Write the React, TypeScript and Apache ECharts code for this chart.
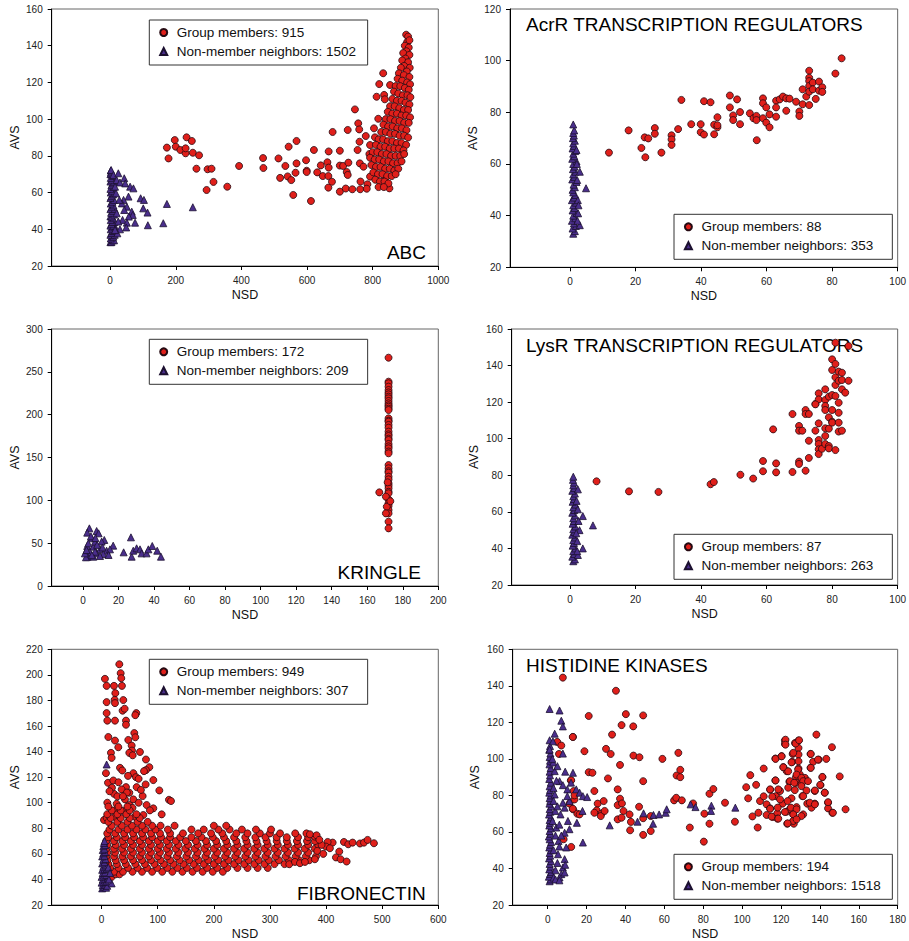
import React, { useEffect, useRef } from 'react';
import * as echarts from 'echarts';

const FONT = '"Liberation Sans", Arial, Helvetica, sans-serif';
const RED = '#e01f1a';
const PURPLE = '#4a2e8c';
const EDGE = '#260a12';

// ---------- tick labels ----------
const abcXTicks = [0, 200, 400, 600, 800, 1000];
const acrXTicks = [0, 20, 40, 60, 80, 100];
const kringleXTicks = [0, 20, 40, 60, 80, 100, 120, 140, 160, 180, 200];
const lysXTicks = [0, 20, 40, 60, 80, 100];
const fibXTicks = [0, 100, 200, 300, 400, 500, 600];
const hkXTicks = [0, 20, 40, 60, 80, 100, 120, 140, 160, 180];

// ---------- legend names ----------
const abcNames = ['Group members: 915', 'Non-member neighbors: 1502'];
const acrNames = ['Group members: 88', 'Non-member neighbors: 353'];
const kringleNames = ['Group members: 172', 'Non-member neighbors: 209'];
const lysNames = ['Group members: 87', 'Non-member neighbors: 263'];
const fibNames = ['Group members: 949', 'Non-member neighbors: 307'];
const hkNames = ['Group members: 194', 'Non-member neighbors: 1518'];

// ---------- ABC ----------
const abcMemberSparse = [
  [173,84.5],[178,78.6],[197,88.6],[200,85],[214,83.2],[230,81.4],[230,84.1],[233,90.1],[249,88.1],[252,81.7],[271,80.3],[263,73],[297,72.7],[309,73],[294,61.4],[315,65.8],[357,63.2],[393,74.5],[466,78.8],[467,73.4],[513,78.6],[518,68],[534,74.5],[544,85],[541,68.8],[552,66.8],[568,88.1],[568,75.9],[558,58.7],[565,70.8],[597,77.6],[599,71.9],[599,71.2],[612,55.4],[621,83.2],[631,71],[642,74.8],[648,69],[662,76.5],[666,82.4],[666,73.6],[665,69],[678,93],[676,65.9],[665,62.7],[700,82.8],[700,74.7],[700,60.5],[710,74.5],[724,94.1],[721,71.2],[724,69.6],[726,76.3],[718,62.2],[738,61.8],[746,105.3],[756,97.7],[759,94.4],[760,87.7],[754,83.2],[761,75.9],[763,66],[762,61.8],[772,74.1],[779,90.8],[784,64.5],[782,62.1],[790,81],[792,85.9],[792,68.7],[807,90.1],[804,95],[812,112.2],[817,100.2],[820,119.1],[832,125],[835,113.2],[837,110.8],[853,118.6],[851,62.3],[837,66.8]
];
const abcMemberDense = [
  [902,146],[908,145],[905,142],[912,143],[898,140],[910,139],[903,137],[893,136],[912,135],[900,133],[890,132],[908,131],[896,129],[913,128],[886,128],[904,126],[880,125],[895,124],[912,123],[876,122],[890,121],[905,120],[914,119],[870,118],[884,118],[898,117],[910,116],[865,115],[878,114],[892,113],[906,113],[915,112],[860,111],[874,110],[888,110],[900,109],[912,108],[853,107],[867,107],[881,106],[895,105],[908,105],[846,104],[860,103],[874,103],[888,102],[902,102],[914,101],[840,100],[854,100],[868,99],[882,99],[896,98],[910,98],[833,97],[847,96],[861,96],[875,95],[889,95],[903,94],[826,93],[840,93],[854,92],[868,92],[882,91],[896,91],[908,90],[818,89],[832,89],[846,88],[860,88],[874,87],[888,87],[902,86],[810,86],[824,85],[838,85],[852,84],[866,84],[880,84],[894,83],[800,82],[814,82],[828,81],[842,81],[856,80],[870,80],[884,80],[896,81],[792,79],[806,78],[820,78],[834,77],[848,77],[862,76],[876,76],[888,77],[796,75],[810,74],[824,74],[838,73],[852,73],[866,72],[878,73],[802,71],[816,70],[830,70],[844,69],[858,69],[870,70],[808,67],[822,66],[836,66],[848,65],[818,63],[834,63]
];
const abcNonMember = [
  [1,33],[4,33],[8,34],[12,34],[2,35],[6,36],[10,36],[1,37],[14,37],[4,38],[8,39],[12,39],[2,40],[6,41],[16,41],[1,42],[10,42],[4,43],[13,44],[7,44],[2,45],[9,46],[1,47],[5,47],[12,48],[3,49],[8,50],[1,51],[14,51],[5,52],[10,53],[2,54],[7,55],[12,56],[1,57],[4,58],[9,59],[2,60],[13,60],[6,61],[1,62],[10,63],[4,64],[8,65],[1,66],[12,66],[5,67],[2,68],[9,69],[1,70],[6,70],[3,71],[2,72],[3,72.3],
  [10,69.6],[20,66.8],[25,70.5],[30,65.5],[43,67.8],[46,65],[61,63.2],[71,62.3],[56,57.8],[41,56],[36,54.1],[51,52.3],[43,50.5],[66,49.6],[69,47.8],[57,46.9],[38,45.1],[51,43.6],[76,43.6],[49,41],[30,40],[93,56.9],[103,56],[101,51.4],[114,49.1],[115,42.2],[162,43.3],[173,53.8],[252,52],[22,37.8],[15,39.6],[25,44.2],[20,48.7],[28,56],[18,59.6],[15,63.2]
];

// ---------- AcrR ----------
const acrMember = [
  [11.9,64.4],[17.9,73],[21.8,66.2],[23,62.6],[22.8,70.3],[23.9,69.9],[25.9,73.9],[25.9,71.7],[27.9,64.4],[31,71.1],[31,69.5],[31,67.4],[33,73.5],[34,84.8],[37,75.4],[39.9,75.4],[39.9,72.3],[40.9,71.4],[40.9,84.3],[42.9,83.9],[44,75.2],[44,71.5],[45,78.1],[45,74.2],[45,75],[48.8,86.5],[48.8,81.9],[49.8,78.8],[49.8,77],[51,85],[51.9,80.1],[51.9,75.4],[54.9,79.6],[56,77.7],[56.9,78.6],[56.9,77],[57,69.2],[58.9,85.4],[58.9,83.5],[58.9,77.7],[59.9,81.9],[59.9,76],[60.9,79.2],[60.9,74.2],[62.9,84.5],[62.9,81.9],[62.9,78.3],[64,85],[65,86.1],[66,85.4],[66,80.6],[67,85.3],[69,84.1],[70,80.3],[70,78.6],[71,88.9],[71,83.1],[72.1,86.1],[73,96.1],[73,93.4],[73,92.1],[73,90.2],[73,88],[73,82.8],[74.1,91.5],[74.1,88.9],[75,85.2],[76,91.9],[76,88.4],[77,89.7],[77,87.9],[81,95],[82.9,100.9]
];
const acrNonMember = [
  [1,33],[1.5,34],[0.8,35],[1.8,36],[1.2,37],[0.6,38],[1.6,39],[1,40],[2,41],[0.8,42],[1.4,43],[1,44],[1.8,45],[0.6,46],[1.2,47],[1.6,48],[1,49],[0.8,50],[1.5,51],[1.1,52],[2,53],[0.7,54],[1.3,55],[1,56],[1.7,57],[0.9,58],[1.4,59],[1,60],[2,61],[0.7,62],[1.3,63],[1,64],[1.6,65],[0.8,66],[1.2,67],[1,68],[1.5,69],[0.9,70],[1.2,71],[1,72],[1.3,73],[1,75.3],
  [2,65.4],[3,57],[4.9,50.6],[3,36.3],[2.5,40.9],[2.2,53.8],[2.4,46],[2.6,44],[2.1,60],[2.3,38]
];

// ---------- KRINGLE ----------
const kringleMember = [
  [172,266.5],[172,238.5],[172,236.6],[172,232.7],[172,228.8],[172,226],[172,223.7],[172,221],[172,219],[172,216],[172,213.2],[172,211],[172,209.3],[172,207],[172,205.4],[172,195.7],[172,193],[172,191.8],[172,188],[172,184.8],[172,180.2],[172,177],[172,175.1],[172,172],[172,170.4],[172,165.8],[172,163],[172,160.7],[172,157],[172,154.9],[172,141.2],[172,137.4],[172,134],[172,132.3],[172,127.6],[172,124.5],[172,119.8],[172,117],[172,114],[172,110],[172,108.2],[172,101.2],[172,96.5],[172,93.4],[172,88.7],[172,84.8],[172,75.1],[172,67.3],[166.8,109.3],[170.5,104.3],[171,92.6],[170.5,84.8],[173,99],[171.5,121]
];
const kringleNonMember = [
  [3.6,67.3],[7.7,64.2],[8.8,61.5],[2.4,62.3],[4.9,55.6],[12,53.7],[10.5,51.8],[17,47.1],[2.4,46.7],[5.8,45.9],[9.6,42.8],[13.3,41.2],[15.2,42.8],[3.9,39.7],[7.7,38.1],[11.4,37.4],[14.4,36.2],[2.6,34.2],[5.8,34.2],[9.6,35],[22.9,39.3],[27,56.8],[27.4,34.2],[28.3,41.2],[30.2,44],[32.1,42.8],[33,38.1],[35.8,38.1],[36.8,42.8],[39,46.7],[41.8,41.2],[43.9,34.2],[1.7,33.5],[1.1,38.1],[6.8,51.8],[3,49.8],[6.8,40],[4.5,58],[8,48],[2,42],[5,36],[11,45],[7,56]
];

// ---------- LysR ----------
const lysMember = [
  [8.1,76.7],[18,71.2],[27,70.9],[42.9,75.1],[43.9,76.3],[52,80.3],[55.9,78.2],[58.9,87.8],[58.9,82.2],[62,105.1],[62.9,86.5],[62.9,81.6],[67.9,113.5],[67.9,81.8],[69.9,107],[69.9,104.4],[69.9,87.5],[69.9,86.2],[70.9,104.4],[71.9,115.7],[71.9,113.5],[72.9,113.5],[71.9,82.5],[72.9,98.9],[72.9,89.5],[74.9,119],[74.9,104.4],[75.9,124.8],[75.9,121.5],[75.9,108.4],[75.9,99.3],[75.9,97.1],[75.9,94.2],[75.9,91.6],[76.9,94.5],[77.9,127],[77.9,121.2],[77.9,117.9],[77.9,115.7],[77.9,105.7],[77.9,101.5],[77.9,97.1],[79,123],[79,111.7],[79,105.5],[79,96],[79,94.7],[80,143.4],[80,137.6],[80,123.9],[80,115.7],[80,109.3],[80,108.8],[81,152.5],[81,140.9],[81,133.6],[81,129.4],[81,123.4],[81,93.8],[82,136.7],[82,131.7],[82,119.7],[82,114.2],[82,108.8],[82,103.9],[83,136.1],[83,132.1],[83,127],[83,104.4],[84,125.2],[85,131.7],[85,150.7],[74.9,118.8]
];
const lysNonMember = [
  [1,33],[1.5,34],[0.7,35.5],[1.3,37],[1,38.5],[1.6,40],[0.8,41.5],[1.2,43],[1,44.5],[1.5,46],[0.7,47.5],[1.3,49],[1,50.5],[1.6,52],[0.8,53.5],[1.2,55],[1,56.5],[1.5,58],[0.7,59.5],[1.3,61],[1,62.5],[1.6,64],[0.8,65.5],[1.2,67],[1,68.5],[1.5,70],[0.7,71.5],[1.3,73],[1,74.5],[1.2,76],[0.9,77.5],[1,79.2],
  [2.4,72.3],[2.4,61.4],[3.9,57.7],[7,52.6],[2.9,50],[3.9,40],[2.4,36.4],[1.9,48.3],[2.2,44],[2.6,55],[2,66],[2.2,38.5]
];

// ---------- FIBRONECTIN ----------
const fibMemberUpper = [
  [31.5,208.3],[33.9,201.3],[35,197.4],[5.9,196.9],[8.9,191.4],[22,191.4],[36.2,191.4],[24.4,185.7],[23.2,180.5],[8.9,178.7],[23.8,177.9],[38.6,180.3],[37.4,172],[41,173.5],[61.8,170.1],[60,168.5],[8.9,170.1],[10.1,164.2],[23.8,164.2],[43.4,164.2],[43.4,161],[11.9,151.4],[23.8,148.6],[47.5,149.1],[58.2,154.5],[60,151.2],[29.7,143.4],[53.5,144.7],[54.1,140.8],[49.3,139],[68.3,139.7],[16.6,139],[17.8,135.1],[55.3,137.1],[79,133.8],[32.7,127.3],[36.8,125.2],[85,127.8],[79,125.5],[75.5,124.7],[56.5,123.1],[7.7,123.1],[61.2,120],[65.9,118.7],[92.1,117.7],[11.3,115.6],[20.8,117.4],[78.4,114.3],[62.4,112.2],[43.4,112.2],[35.7,110.4],[102.8,109.6],[49.3,107.8],[22,107],[18.4,111.7],[73.1,105.2],[41.6,102.6],[56.5,102.6],[120,102.3],[123.6,101.3],[10.1,100],[26.7,99.2],[49.3,98.2],[80.2,98.2],[92.1,95.6],[107,90.9],[23.8,94],[39.8,93.5],[4.2,86.5],[8.9,88.3],[23.8,88.8],[59.4,89.1],[74.3,90.4],[28,105],[45,108],[55,96],[66,100],[86,94],[30,116],[38,105],[14,109],[47,121],[70,110]
];
const fibBandRows: [number, number[]][] = [
  [42, [18]],
  [44, [25, 32]],
  [46, [22, 38, 55, 72, 90, 108, 126, 144, 162, 180, 198, 216]],
  [49, [15, 30, 47, 64, 81, 99, 117, 135, 152, 170, 188, 206, 224, 242, 260, 278, 296]],
  [52, [12, 27, 43, 60, 77, 94, 111, 128, 146, 164, 182, 200, 218, 236, 254, 272, 290, 308, 326]],
  [55, [10, 25, 40, 56, 72, 88, 105, 122, 139, 156, 173, 190, 208, 226, 244, 262, 280, 298, 316, 334, 352, 370]],
  [58, [8, 22, 37, 52, 68, 84, 100, 117, 134, 151, 168, 185, 202, 220, 238, 256, 274, 292, 310, 328, 346, 364, 382]],
  [61, [10, 24, 40, 56, 72, 88, 104, 120, 137, 154, 171, 188, 206, 224, 242, 260, 278, 296, 314, 332, 350, 368]],
  [64, [8, 22, 36, 52, 68, 84, 100, 116, 132, 149, 166, 183, 200, 218, 236, 254, 272, 290, 308, 326, 344, 362, 380]],
  [67, [10, 25, 40, 56, 72, 88, 104, 120, 137, 154, 171, 188, 206, 224, 242, 260, 278, 296, 314, 332, 350, 368, 386]],
  [70, [8, 22, 37, 52, 68, 84, 100, 116, 132, 150, 168, 186, 204, 222, 240, 258, 276, 294, 312, 330, 348, 366, 380]],
  [73, [12, 27, 42, 58, 74, 90, 106, 122, 140, 160, 178, 198, 218, 236, 256, 274, 292, 312, 330, 350, 368]],
  [76, [10, 24, 40, 56, 72, 88, 104, 122, 145, 172, 195, 215, 240, 260, 282, 300, 318, 345, 365]],
  [79, [14, 30, 46, 62, 78, 96, 118, 160, 182, 208, 228, 250, 275, 302]],
  [82, [18, 36, 54, 72, 90, 105, 130, 200, 222]],
  [85, [12, 28, 46, 64, 82]],
  [88, [16, 34, 50, 68]],
  [91, [10, 28, 44, 62]],
  [94, [18, 34, 50]],
  [97, [12, 30, 46]]
];
const fibMemberTail = [
  [431.8,69.3],[439.5,67.5],[447.3,68.8],[460.4,68.1],[467.5,68.8],[474,70.9],[485.3,68.3],[411.7,68.8],[402.8,69.3],[399.7,65.7],[406.8,64.4],[423.5,61.8],[417.6,57.2],[425.9,55.8],[436.6,54],[380,55.8],[384.3,62.3],[380,73.5],[371.2,75.3],[383.2,74.5],[334.4,51.9],[344.5,53.7],[353.4,52.7],[362.3,53.7],[392,67],[388,71],[395,60]
];
const fibNonMember = [
  [1,33],[4,34],[8,33.5],[2,35.5],[6,36],[10,35],[0,37.5],[4,38],[8,38.5],[2,40],[6,40.5],[11,41],[0,42],[4,43],[8,43.5],[2,45],[6,45.5],[1,47.5],[5,48],[9,48.5],[3,50],[7,51],[1,52.5],[5,53.5],[3,55.5],[7,56],[1,58],[5,58.5],[3,60.5],[6,61.5],[2,63],[5,64],[3,66],[6,67],[4,68.5],[5,70],
  [8.9,129.9],[17.8,36.9],[11.9,49.4],[13,40],[15,45]
];

// ---------- HISTIDINE KINASES ----------
const hkMember = [
  [7.8,144.5],[35.1,137.3],[21.1,123.5],[40.2,124.5],[49.1,123.8],[38,118.5],[44,117.8],[33.1,113.3],[13,112],[4.9,109.3],[7,107.3],[18.9,104.2],[30,105.5],[32.4,102.7],[5.8,102.7],[44.1,101.8],[47.2,100.9],[59,100],[67.2,103.3],[37.2,96.7],[21.1,92.7],[23,92.4],[31,89.3],[49.1,87.8],[11.9,88.2],[66.3,90.9],[68.2,94],[68.2,90],[24,82.4],[36,83.3],[37.2,78.2],[13.3,82.4],[11.2,75.5],[13,72.4],[13.8,77.8],[25.7,75.5],[25.2,71.8],[27.6,70],[27.3,68.7],[28.8,76.9],[29.3,71.5],[15.2,70],[16.4,69.6],[24,70.5],[36,74.7],[36,66.9],[38,67.8],[38.2,75.6],[39,71.5],[42.1,69.6],[42.8,65.5],[42.4,60.9],[47,73.8],[49.1,67.5],[49.1,58.4],[53,60.5],[53,68.7],[65,77.3],[66.1,78.7],[69,77.3],[73.1,62.4],[74.8,75.6],[80.6,70],[80.3,54.7],[83.2,80.9],[85.2,83.5],[83.2,64.5],[91.2,76],[96.3,65.6],[102.1,84.5],[103.1,78.4],[104.2,91.1],[107.2,85.8],[105.3,68.5],[108,62.4],[108.4,70.5],[109.2,76.9],[111.1,94.7],[111.1,79.5],[112.6,75.1],[112.6,69.3],[114.4,83.1],[114.4,72.9],[115.7,68.2],[117.1,100.2],[117.1,88.2],[117.4,79.6],[118.1,70.2],[118.1,67.3],[119.5,82.4],[120.3,101.5],[120.8,75.5],[122,110],[122,108.2],[121.2,95.5],[122.9,93.3],[122.9,71.1],[123.2,64.5],[124.3,87.5],[124.6,72.4],[125.4,78.4],[125.8,98.4],[126,102.7],[126.3,69.6],[126.3,66],[126.6,64.5],[127.2,108.7],[127.7,90],[127.7,86.9],[128,73.6],[129,110],[129,106],[129,102.4],[129,98.7],[129,94.7],[129.7,91.5],[130.6,86.4],[131,79.6],[131.4,69.6],[132.3,89.6],[133.1,82.7],[133.5,75.5],[135.2,102.7],[135.2,95.1],[135.7,73.3],[136.5,98.4],[137.4,82.4],[137.4,75.5],[138.2,113.3],[139.4,99.6],[140.3,85.6],[141.3,90],[142.5,81.5],[143.3,100],[144.2,76],[144.2,72.9],[146.2,106.4],[146.4,70.5],[150.2,90.4],[153.2,72.4],
  [12.1,51.8],[8.2,56],[12.9,112],[12.1,88.3],[13.8,80],[12.9,72.7],
  [122.3,110.5],[122.3,107.8],[127.5,108.4],[129.3,110.2],[126.3,103.3],[135.3,102.7],[117.2,100],[120.3,101.4],[125.4,98.1],[139,99.6],[121.2,95.4],[123.7,93.2],[128.8,94.2],[135.3,95.1],[128,91.4],[130.5,89.6],[141.3,90.1],[117.2,88.2],[124.6,87.8],[126.8,86.9],[131.4,87.8],[133.9,87.8],[140.2,85.8],[114.4,83.3],[118.6,83.3],[123.7,84.2],[127.1,82.9],[130.5,85.1],[137.4,82.7],[142.5,81.5],[131.4,79.6],[115.5,79.3],[119.5,77.8],[123.4,76.9],[134.8,76],[137.4,75.1],[144.2,76.3],[114.4,72.7],[118.3,73.3],[125.1,73.3],[128,72.4],[122,70.9],[126.3,69.6],[146.7,70.5],[115.2,68.4],[118.6,67.3],[130.5,68.7],[126.3,66],[123.4,64.7],[128,66.9]
];
const hkNonMember = [
  [1,33],[1.5,34],[0.6,35.5],[1.2,37],[1.8,38],[0.8,39.5],[1.4,41],[1,42.5],[1.7,44],[0.7,45.5],[1.3,47],[1,48.5],[1.6,50],[0.8,51.5],[1.2,53],[1.8,54.5],[1,56],[0.6,57.5],[1.4,59],[1,60.5],[1.7,62],[0.8,63.5],[1.2,65],[1,66.5],[1.6,68],[0.7,69.5],[1.3,71],[1,72.5],[1.8,74],[0.9,75.5],[1.3,77],[1,78.5],[1.5,80],[0.8,81.5],[1.2,83],[1,85],[1.6,87],[0.8,89],[1.2,91],[1,93],[1.5,95],[0.9,97],[1.2,99],[1,101],[1.4,103],[0.8,105],[1.2,107],[1,110.2],[2.7,109.6],[1,105.1],[1,127.3],
  [6.1,126.5],[7,120.9],[7.8,117.8],[3.6,113.8],[7.8,102.9],[13,92.4],[6.1,87.8],[7.8,85.6],[10.1,83.3],[14.7,83.3],[16.4,81.5],[18.1,79.6],[20.3,79.1],[17.9,71.5],[18.1,54.2],[31.9,63.6],[46.2,65.6],[49.3,70.2],[54.4,69.3],[57.3,69.6],[60.7,70.5],[61.2,72.4],[54.2,64.5],[73.5,75.1],[76,73.6],[84.2,74.4],[84,71.5],[96.5,73.3],[10.4,66],[11.2,61.5],[8.7,59.6],[9.5,51.5],[8.7,45.1],[7.8,40.5],[7,36.9],[6.1,35.1],[8.7,37.8],[5.3,47.8],[5.6,55.1],[6.6,69.6],[8.7,73.3],[11.2,76.9],[10.1,79.6],[7.8,76],[4.4,62.4],[3.9,71.5],[3.6,80.5],[3.6,93.3],[3,35],[4,39],[5,43],[3,50],[6,52],[4,58],[2.5,66],[5,74],[3,84],[4.5,88],[2.8,98],[5,96],[6,64],[7,58],[9,42],[4,34],[6,33.5],[3,77],[2.4,100],[12,87],[9,93],[15,65]
];

function fromRows(r: [number, number[]][]) {
  return r.flatMap(([y, xs]) => xs.map((x) => [x, y]));
}

export default function App() {
  const ref = useRef<HTMLDivElement>(null);

  useEffect(() => {
    if (!ref.current) return;
    const chart = echarts.init(ref.current, null, { renderer: 'svg' });

    const panels = [
      { grid: { left: 51.7, top: 9, width: 386.6, height: 257 }, xMin: -178, xMax: 1000, xTicks: abcXTicks, yMin: 20, yMax: 160, yInt: 20,
        member: [...abcMemberSparse, ...abcMemberDense], non: abcNonMember, names: abcNames,
        legend: { left: 149.3, top: 20, padR: 11.6 }, label: { text: 'ABC', x: 426, y: 252.7, align: 'right' }, yGap: 30 },
      { grid: { left: 510, top: 9, width: 388.3, height: 258.3 }, xMin: -18.3, xMax: 100, xTicks: acrXTicks, yMin: 20, yMax: 120, yInt: 20,
        member: acrMember, non: acrNonMember, names: acrNames,
        legend: { left: 674, top: 214.3, padR: 19.1 }, label: { text: 'AcrR TRANSCRIPTION REGULATORS', x: 526, y: 24.3, align: 'left' }, yGap: 31 },
      { grid: { left: 51.7, top: 329, width: 386.6, height: 257 }, xMin: -17.6, xMax: 200, xTicks: kringleXTicks, yMin: 0, yMax: 300, yInt: 50,
        member: kringleMember, non: kringleNonMember, names: kringleNames,
        legend: { left: 149.3, top: 339.3, padR: 19.1 }, label: { text: 'KRINGLE', x: 421, y: 572.7, align: 'right' }, yGap: 30 },
      { grid: { left: 511.7, top: 329, width: 388.3, height: 256 }, xMin: -17.8, xMax: 100, xTicks: lysXTicks, yMin: 20, yMax: 160, yInt: 20,
        member: lysMember, non: lysNonMember, names: lysNames,
        legend: { left: 674, top: 534.3, padR: 19.1 }, label: { text: 'LysR TRANSCRIPTION REGULATORS', x: 526, y: 345.7, align: 'left' }, yGap: 31 },
      { grid: { left: 51.7, top: 649.3, width: 386.6, height: 256.7 }, xMin: -89, xMax: 600, xTicks: fibXTicks, yMin: 20, yMax: 220, yInt: 20,
        member: [...fibMemberUpper, ...fromRows(fibBandRows), ...fibMemberTail], non: fibNonMember, names: fibNames,
        legend: { left: 149.3, top: 659.3, padR: 19.1 }, label: { text: 'FIBRONECTIN', x: 425.7, y: 893.3, align: 'right' }, yGap: 30 },
      { grid: { left: 512.7, top: 649.3, width: 387.3, height: 256.7 }, xMin: -18, xMax: 180, xTicks: hkXTicks, yMin: 20, yMax: 160, yInt: 20,
        member: hkMember, non: hkNonMember, names: hkNames,
        legend: { left: 674, top: 854.3, padR: 11.6 }, label: { text: 'HISTIDINE KINASES', x: 526, y: 665.7, align: 'left' }, yGap: 31 }
    ];

    const option: any = {
      animation: false,
      backgroundColor: '#ffffff',
      grid: panels.map((p) => ({ ...p.grid, show: true, borderColor: '#666', borderWidth: 1, backgroundColor: 'transparent', containLabel: false })),
      xAxis: panels.map((p, i) => ({
        type: 'value', gridIndex: i, min: p.xMin, max: p.xMax,
        name: 'NSD', nameLocation: 'middle', nameGap: 22,
        nameTextStyle: { fontFamily: FONT, fontSize: 12.5, color: '#111' },
        axisLine: { show: true, onZero: false, lineStyle: { color: '#000', width: 1 } },
        axisTick: { show: true, inside: false, length: 4, customValues: p.xTicks, lineStyle: { color: '#000', width: 1 } },
        axisLabel: { customValues: p.xTicks, margin: 9, fontFamily: FONT, fontSize: 10, color: '#222', formatter: (v: number) => String(v) },
        splitLine: { show: false }
      })),
      yAxis: panels.map((p, i) => ({
        type: 'value', gridIndex: i, min: p.yMin, max: p.yMax, interval: p.yInt,
        name: 'AVS', nameLocation: 'middle', nameGap: p.yGap, nameRotate: 90,
        nameTextStyle: { fontFamily: FONT, fontSize: 12.5, color: '#111' },
        axisLine: { show: true, onZero: false, lineStyle: { color: '#000', width: 1 } },
        axisTick: { show: true, inside: false, length: 4, lineStyle: { color: '#000', width: 1 } },
        axisLabel: { margin: 9, fontFamily: FONT, fontSize: 10, color: '#222', formatter: (v: number) => String(v) },
        splitLine: { show: false }
      })),
      legend: panels.map((p) => ({
        left: p.legend.left, top: p.legend.top, orient: 'vertical',
        padding: [5.5, p.legend.padR, 6.5, 9.9], itemGap: 5, itemWidth: 7, itemHeight: 7,
        borderColor: '#333', borderWidth: 1, backgroundColor: '#fff', selectedMode: false,
        textStyle: { fontFamily: FONT, fontSize: 13.5, color: '#111', padding: [0, 0, 0, 4.5] },
        data: [{ name: p.names[0], icon: 'circle' }, { name: p.names[1], icon: 'triangle' }]
      })),
      series: panels.flatMap((p, i) => [
        { type: 'scatter', name: p.names[0], xAxisIndex: i, yAxisIndex: i, data: p.member, symbol: 'circle', symbolSize: 7,
          itemStyle: { color: RED, borderColor: EDGE, borderWidth: 0.8, opacity: 1 }, silent: true, z: 2 },
        { type: 'scatter', name: p.names[1], xAxisIndex: i, yAxisIndex: i, data: p.non, symbol: 'triangle', symbolSize: 7,
          itemStyle: { color: PURPLE, borderColor: '#1c1030', borderWidth: 0.8, opacity: 1 }, silent: true, z: 3 }
      ]),
      graphic: panels.map((p) => ({
        type: 'text', x: p.label.x, y: p.label.y, silent: true, z: 1,
        style: { text: p.label.text, fontFamily: FONT, fontSize: 19, fill: '#000',
          textAlign: p.label.align, textVerticalAlign: 'middle', align: p.label.align, verticalAlign: 'middle' }
      }))
    };

    chart.setOption(option);
    return () => chart.dispose();
  }, []);

  return <div ref={ref} style={{ position: 'fixed', left: 0, top: 0, width: 909, height: 941, background: '#fff' }} />;
}
